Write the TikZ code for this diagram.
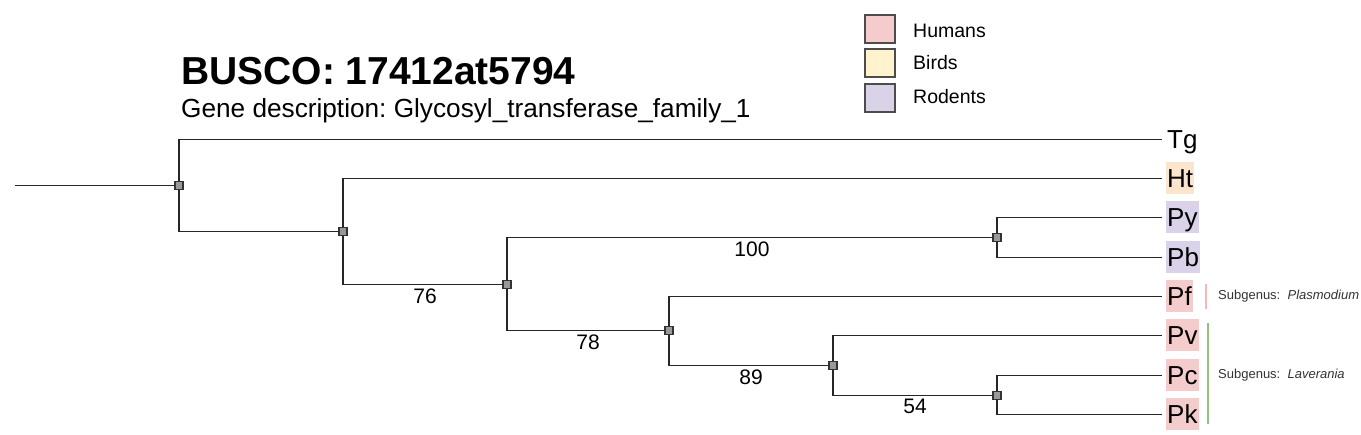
\documentclass[tikz,border=0pt]{standalone}
\usepackage{fontspec}
\setmainfont{Liberation Sans}
\usetikzlibrary{backgrounds}
\definecolor{hum}{HTML}{F4CCCC}
\definecolor{bird}{HTML}{FFF2CC}
\definecolor{rod}{HTML}{D9D2E9}
\definecolor{htc}{HTML}{FCE5CD}
\definecolor{lavg}{HTML}{93C47D}
\definecolor{subc}{HTML}{333333}
\frenchspacing
\begin{document}
\begin{tikzpicture}[x=1pt,y=-1pt,
  branch/.style={draw=black!85, line width=1.6pt},
  innernode/.style={rectangle, draw=black!80, fill=black!40, minimum size=8pt, inner sep=0pt, line width=1.2pt},
  leaf/.style={anchor=west, font=\fontsize{26}{26}\selectfont, text height=21.5pt, text depth=3.5pt, inner xsep=1pt, inner ysep=3.5pt},
  blab/.style={font=\fontsize{21}{21}\selectfont},
  legbox/.style={rectangle, draw=black!70, line width=1.5pt, minimum width=30pt, minimum height=28pt, inner sep=0pt},
  legtext/.style={anchor=west, font=\fontsize{19.5}{19.5}\selectfont, inner sep=0pt},
  subtext/.style={anchor=west, font=\fontsize{13}{13}\selectfont, text=subc, inner sep=0pt}
]
\useasboundingbox (0,0) rectangle (1361,435);

% title
\node[anchor=base west, inner sep=0pt, font=\fontsize{39}{39}\selectfont\bfseries] (title) at (181,85) {BUSCO: 17412at5794};
\node[anchor=base west, inner sep=0pt, font=\fontsize{26.2}{26.2}\selectfont] (subtitle) at (181,118) {Gene description: Glycosyl\_transferase\_family\_1};

% legend
\node[legbox, fill=hum] (lh) at (880,29) {};
\node[legbox, fill=bird] (lb) at (880,63) {};
\node[legbox, fill=rod] (lr) at (880,98) {};
\node[legtext] (lht) at (913,31) {Humans};
\node[legtext] (lbt) at (913,63) {Birds};
\node[legtext] (lrt) at (913,97) {Rodents};

% internal nodes
\coordinate (start) at (15,185.5);
\node[innernode] (r) at (179,185.5) {};
\node[innernode] (n2) at (343,231.5) {};
\node[innernode] (n3) at (507,284.5) {};
\node[innernode] (nyb) at (997,237.5) {};
\node[innernode] (n4) at (669,330.5) {};
\node[innernode] (n5) at (833,365.5) {};
\node[innernode] (nck) at (997,395.5) {};

% leaves
\node[leaf] (tg) at (1166,139.5) {Tg};
\node[leaf, fill=htc] (ht) at (1166,178.5) {Ht};
\node[leaf, fill=rod] (py) at (1166,217.5) {Py};
\node[leaf, fill=rod] (pb) at (1166,257.5) {Pb};
\node[leaf, fill=hum] (pf) at (1166,296.5) {Pf};
\node[leaf, fill=hum] (pv) at (1166,335.5) {Pv};
\node[leaf, fill=hum] (pc) at (1166,375.5) {Pc};
\node[leaf, fill=hum] (pk) at (1166,414.5) {Pk};

\begin{pgfonlayer}{background}
\fill[white] (0,0) rectangle (1361,435);
\draw[branch] (start) -- (r.center);
\draw[branch] (r.center) |- ([xshift=-4pt]tg.west);
\draw[branch] (r.center) |- (n2.center);
\draw[branch] (n2.center) |- ([xshift=-4pt]ht.west);
\draw[branch] (n2.center) |- (n3.center);
\draw[branch] (n3.center) |- (nyb.center);
\draw[branch] (nyb.center) |- ([xshift=-4pt]py.west);
\draw[branch] (nyb.center) |- ([xshift=-4pt]pb.west);
\draw[branch] (n3.center) |- (n4.center);
\draw[branch] (n4.center) |- ([xshift=-4pt]pf.west);
\draw[branch] (n4.center) |- (n5.center);
\draw[branch] (n5.center) |- ([xshift=-4pt]pv.west);
\draw[branch] (n5.center) |- (nck.center);
\draw[branch] (nck.center) |- ([xshift=-4pt]pc.west);
\draw[branch] (nck.center) |- ([xshift=-4pt]pk.west);
\end{pgfonlayer}

% branch support labels
\node[blab] (s100) at (752,249) {100};
\node[blab] (s76) at (425,296) {76};
\node[blab] (s78) at (588,342) {78};
\node[blab] (s89) at (751,377) {89};
\node[blab] (s54) at (915,406) {54};

% subgenus annotations
\coordinate (pft) at (1206,284);
\coordinate (pfb) at (1206,309);
\draw[hum!90!red, line width=1.2pt] (pft) -- (pfb);
\node[subtext] (pfl) at (1218,296) {Subgenus:\ \ \textit{Plasmodium}};
\coordinate (lat) at (1208,323);
\coordinate (lab) at (1208,424);
\draw[lavg, line width=1.8pt] (lat) -- (lab);
\node[subtext] (lal) at (1218,375) {Subgenus:\ \ \textit{Laverania}};
\end{tikzpicture}
\end{document}
